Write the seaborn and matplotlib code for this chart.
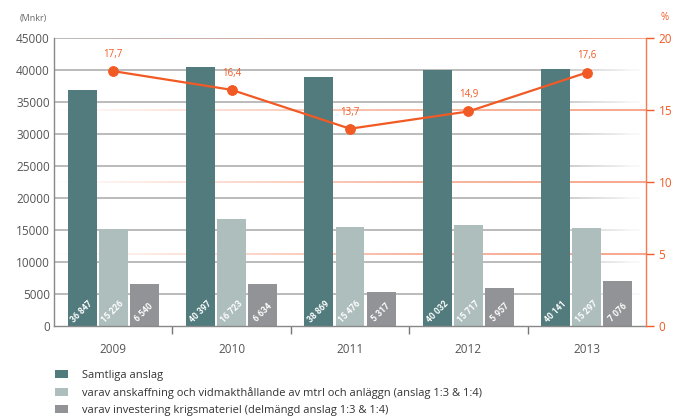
import numpy as np
import pandas as pd
import matplotlib
matplotlib.use("Agg")
import matplotlib.pyplot as plt
import seaborn as sns
from matplotlib.patches import Patch
from matplotlib.collections import LineCollection
from matplotlib.colors import to_rgb

years = ["2009", "2010", "2011", "2012", "2013"]
samtliga = [36847, 40397, 38869, 40032, 40141]
anskaffning = [15226, 16723, 15476, 15717, 15297]
investering = [6540, 6634, 5317, 5957, 7076]
andel_pct = [17.7, 16.4, 13.7, 14.9, 17.6]
pct_labels = ["17,7", "16,4", "13,7", "14,9", "17,6"]
series_names = [
    "Samtliga anslag",
    "varav anskaffning och vidmakthållande av mtrl och anläggn (anslag 1:3 & 1:4)",
    "varav investering krigsmateriel (delmängd anslag 1:3 & 1:4)",
]
colors = ["#517b7d", "#aebebd", "#929396"]
orange = "#f15a24"
orange_grid = "#f58d6a"
grey_grid = "#a8a8a8"

sns.set_theme(style="white")
plt.rcParams["font.family"] = ["Open Sans", "DejaVu Sans"]

df = pd.DataFrame({
    "year": years * 3,
    "value": samtliga + anskaffning + investering,
    "series": [series_names[0]] * 5 + [series_names[1]] * 5 + [series_names[2]] * 5,
})

fig = plt.figure(figsize=(6.75, 4.18), dpi=100)
ax = fig.add_axes([54 / 675, 1 - 326 / 418, (646 - 54) / 675, (326 - 38) / 418])
ax.set_xlim(-0.5, 4.5)
ax.set_ylim(0, 45000)


def gradient_line(ax, y, x0, x1, color, alphas_at, z):
    n = 120
    xs = np.linspace(x0, x1, n + 1)
    segs = [[(xs[i], y), (xs[i + 1], y)] for i in range(n)]
    xm = (xs[:-1] + xs[1:]) / 2
    a = np.interp(xm, alphas_at[0], alphas_at[1])
    rgb = to_rgb(color)
    cols = [(rgb[0], rgb[1], rgb[2], ai) for ai in a]
    lc = LineCollection(segs, colors=cols, linewidths=1.1, zorder=z)
    ax.add_collection(lc)


# grey gridlines: solid, fading out toward the right end
for v in range(5000, 45001, 5000):
    gradient_line(ax, v, -0.5, 4.45, grey_grid, ([-0.5, 3.6, 4.45], [1.0, 1.0, 0.05]), 0.5)
# orange % gridlines: faint at left, strong at right
for p in [5, 10, 15, 20]:
    gradient_line(ax, p * 45000 / 20, -0.5, 4.5, orange_grid, ([-0.5, 0.0, 2.5, 4.5], [0.0, 0.15, 0.8, 1.0]), 0.6)

sns.barplot(data=df, x="year", y="value", hue="series", palette=colors,
            width=0.79, gap=0.07, ax=ax, saturation=1, legend=False, zorder=2,
            linewidth=0, edgecolor="none")

ax.set_ylim(0, 45000)
ax.set_xlim(-0.5, 4.5)
ax.set_yticks(range(0, 45001, 5000))
ax.set_yticklabels([str(v) for v in range(0, 45001, 5000)], fontsize=8.5, color="#555555")
ax.set_xticks(range(5))
ax.set_xticklabels(years, fontsize=8.5, color="#555555")
ax.tick_params(axis="x", length=0, pad=12)
ax.tick_params(axis="y", length=0, pad=3)
ax.set_xticks([0.5, 1.5, 2.5, 3.5], minor=True)
ax.tick_params(axis="x", which="minor", length=6, width=1, color="#777777", direction="out", bottom=True)
ax.set_xlabel("")
ax.set_ylabel("")
for s in ["top", "right"]:
    ax.spines[s].set_visible(False)
for s in ["left", "bottom"]:
    ax.spines[s].set_color("#888888")
    ax.spines[s].set_linewidth(1.0)

# bar value labels
for cont, vals in zip(ax.containers, [samtliga, anskaffning, investering]):
    for patch, v in zip(cont.patches, vals):
        xc = patch.get_x() + patch.get_width() / 2
        lab = f"{v:,}".replace(",", " ")
        ax.annotate(lab, xy=(xc, 0), xytext=(0, 10), textcoords="offset points",
                    rotation=45, rotation_mode="anchor", ha="center", va="center",
                    color="white", fontsize=6.2, fontweight="bold", zorder=5,
                    family=["Liberation Sans Narrow", "Roboto", "DejaVu Sans"])

ax2 = ax.twinx()
ax2.set_ylim(0, 20)
sns.lineplot(x=np.arange(5), y=andel_pct, ax=ax2, color=orange, lw=1.6,
             marker="o", markersize=7, markeredgecolor=orange, zorder=5)
for i, (v, lab) in enumerate(zip(andel_pct, pct_labels)):
    ax2.annotate(lab, xy=(i, v), xytext=(0, 12), textcoords="offset points",
                 ha="center", va="center", fontsize=7, color=orange)
ax2.set_yticks([0, 5, 10, 15, 20])
ax2.set_yticklabels(["0", "5", "10", "15", "20"], fontsize=8.5, color=orange)
ax2.tick_params(axis="y", length=6, width=1, color=orange, direction="out", pad=3, right=True)
for s in ["top", "left", "bottom"]:
    ax2.spines[s].set_visible(False)
ax2.spines["right"].set_color("#f47a50")
ax2.spines["right"].set_linewidth(1.0)
ax2.set_ylabel("")
ax2.set_xlim(-0.5, 4.5)

fig.text(20 / 675, 1 - 18 / 418, "(Mnkr)", fontsize=6.5, color="#666666", va="center", ha="left")
fig.text(665 / 675, 1 - 18 / 418, "%", fontsize=7, color=orange, va="center", ha="center")

handles = [Patch(facecolor=c, edgecolor="none") for c in colors]
fig.legend(handles, series_names, loc="upper left", bbox_to_anchor=(55 / 675, 1 - 370 / 418),
           frameon=False, fontsize=8, handlelength=1.15, handleheight=0.75,
           handletextpad=1.3, labelspacing=0.55, borderaxespad=0, borderpad=0,
           labelcolor="#333333")

fig.savefig("out.png", dpi=100)
